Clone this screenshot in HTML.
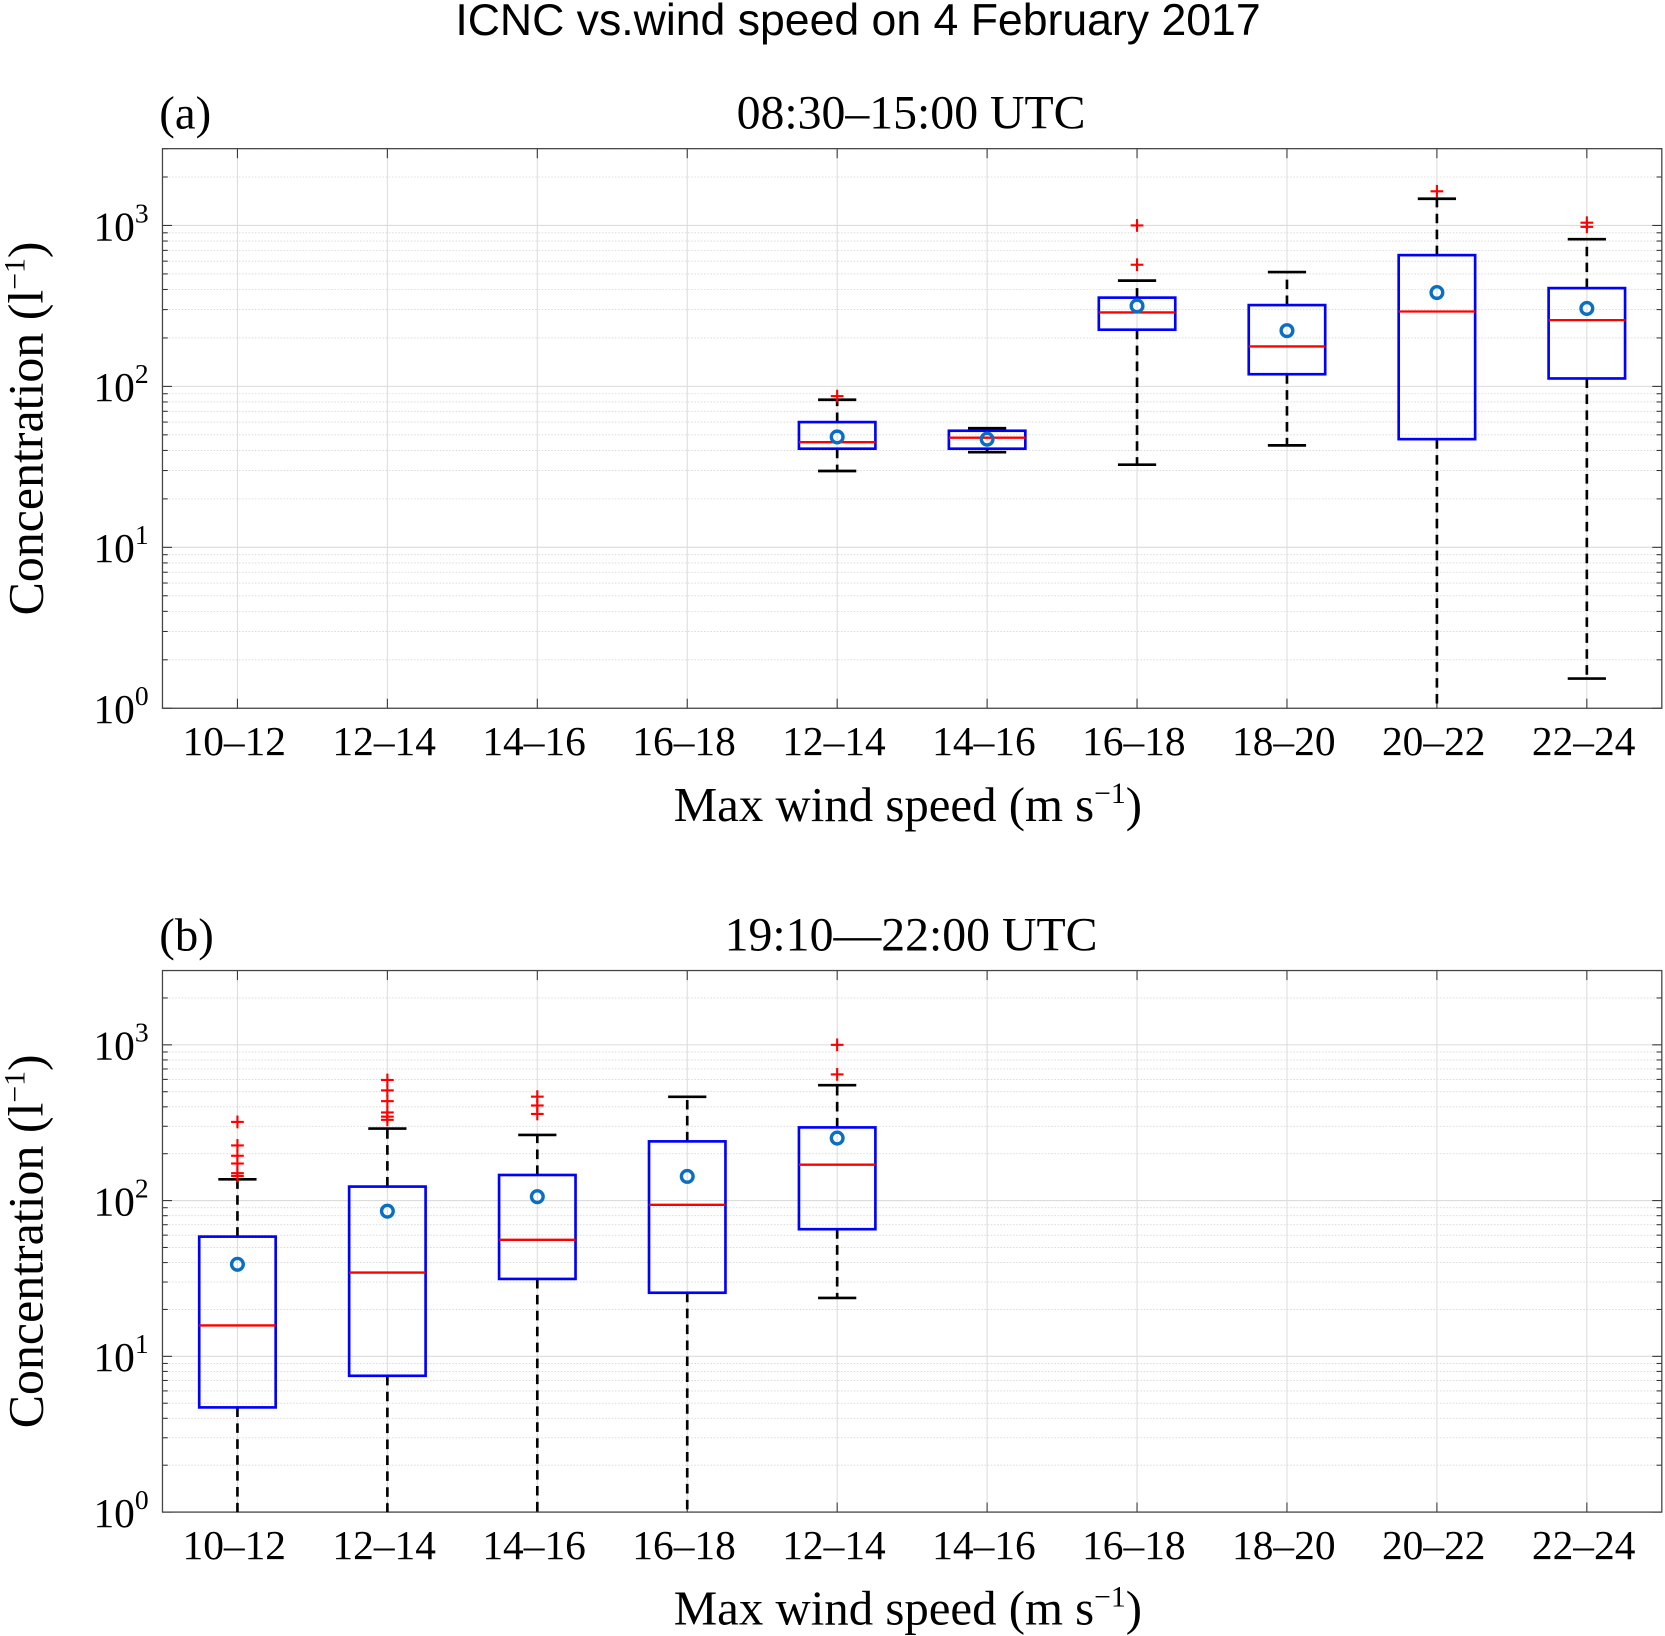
<!DOCTYPE html>
<html><head><meta charset="utf-8"><style>
html,body{margin:0;padding:0;background:#fff}
svg{display:block}
text{font-family:"Liberation Serif",serif;fill:#000}
</style></head><body>
<svg id="chart" width="1665" height="1636" viewBox="0 0 1568 1540.7" xmlns="http://www.w3.org/2000/svg">
<text x="808" y="33" text-anchor="middle" style="font-family:'Liberation Sans',sans-serif;font-size:42px">ICNC vs.wind speed on 4 February 2017</text>
</svg>
<script>
const categories=["10–12","12–14","14–16","16–18","12–14","14–16","16–18","18–20","20–22","22–24"];
// panel a: [catIndex, whiskerLow, q1, median, q3, whiskerHigh, mean]
const boxesA=[[4,29.8,41,45,60,82.6,48.5],[5,39,41,48,53,55,47],[6,32.6,225,288,356,454,316],[7,43,119,177,320,513,222],[8,1,47,292,654,1465,383],[9,1.53,112,258,408,822,305]];
const outliersA=[[4,87],[6,1000],[6,570],[8,1630],[9,1040],[9,980]];
const boxesB=[[0,1,4.7,15.8,58.7,137,39],[1,1,7.5,34.5,123,290,85.5],[2,1,31.4,56,146,264,106],[3,1,25.6,94,240,464,143],[4,23.7,65.5,170,295,551,252]];
const outliersB=[[0,320],[0,226],[0,194],[0,173],[0,150],[0,144],[1,595],[1,510],[1,435],[1,368],[1,346],[1,330],[2,465],[2,408],[2,360],[4,1000],[4,646]];
const yTickExp=[0,1,2,3];
const svg=document.getElementById('chart');
const NS='http://www.w3.org/2000/svg';
function mk(tag,attrs,parent){const e=document.createElementNS(NS,tag);for(const k in attrs)e.setAttribute(k,attrs[k]);(parent||svg).appendChild(e);return e;}
function panel(p){
  const L=153,R=1565,T=p.top,B=p.bottom;
  const ymax=Math.log10(3000);
  const y=v=>B-(Math.log10(v))/ymax*(B-T);
  const step=(R-L)/categories.length;
  const x=i=>L+step*(i+0.5);
  const g=mk('g',{});
  
  
  for(let d=0;d<4;d++){for(let m=1;m<10;m++){const v=m*Math.pow(10,d);if(v>3000)break;const yy=y(v);
    const ln=mk('line',{x1:L,x2:R,y1:yy,y2:yy,stroke:m==1?'#dcdcdc':'#d8d8d8','stroke-width':m==1?1:0.8,'stroke-dasharray':m==1?'':'1.5,1.5'},g);
    
    const tl=m==1?9:5;
    mk('line',{x1:L,x2:L+tl,y1:yy,y2:yy,stroke:'#333','stroke-width':1},g);
    mk('line',{x1:R,x2:R-tl,y1:yy,y2:yy,stroke:'#333','stroke-width':1},g);
  }}
  categories.forEach((c,i)=>{const xx=x(i);
    const ln=mk('line',{x1:xx,x2:xx,y1:T,y2:B,stroke:'#dcdcdc','stroke-width':1},g);
    
    mk('line',{x1:xx,x2:xx,y1:B,y2:B-9,stroke:'#333'},g);
    mk('line',{x1:xx,x2:xx,y1:T,y2:T+9,stroke:'#333'},g);
    const t=mk('text',{x:xx-3,y:B+44,'text-anchor':'middle','font-size':'39px'},g);t.textContent=c;
    
  });
  yTickExp.forEach(e=>{const t=mk('text',{x:140,y:y(Math.pow(10,e))+14,'text-anchor':'end','font-size':'39px'},g);
    t.innerHTML='10<tspan dy="-17" font-size="26px">'+e+'</tspan>';
    });
  const fr=mk('rect',{x:L,y:T,width:R-L,height:B-T,fill:'none',stroke:'#444','stroke-width':1.2},g);
  
  const hw=36,cap=18;
  p.boxes.forEach(b=>{const xx=x(b[0]);const bg=mk('g',{},g);
    
    mk('line',{x1:xx,x2:xx,y1:y(b[4]),y2:y(b[5]),stroke:'#000','stroke-width':2.5,'stroke-dasharray':'9,6'},bg);
    mk('line',{x1:xx,x2:xx,y1:y(b[2]),y2:y(b[1]),stroke:'#000','stroke-width':2.5,'stroke-dasharray':'9,6'},bg);
    if(b[1]>1)mk('line',{x1:xx-cap,x2:xx+cap,y1:y(b[1]),y2:y(b[1]),stroke:'#000','stroke-width':2.5},bg);
    mk('line',{x1:xx-cap,x2:xx+cap,y1:y(b[5]),y2:y(b[5]),stroke:'#000','stroke-width':2.5},bg);
    mk('rect',{x:xx-hw,y:y(b[4]),width:2*hw,height:y(b[2])-y(b[4]),fill:'none',stroke:'#0000ff','stroke-width':2.5},bg);
    mk('line',{x1:xx-hw,x2:xx+hw,y1:y(b[3]),y2:y(b[3]),stroke:'#ff0000','stroke-width':2.2},bg);
    const mc=mk('circle',{cx:xx,cy:y(b[6]),r:5.5,fill:'none',stroke:'#0a6fc2','stroke-width':3.2},bg);
    
  });
  p.outliers.forEach(o=>{const xx=x(o[0]),yy=y(o[1]);const og=mk('g',{},g);
    
    mk('line',{x1:xx-6,x2:xx+6,y1:yy,y2:yy,stroke:'#ff0000','stroke-width':2},og);
    mk('line',{x1:xx,x2:xx,y1:yy-6,y2:yy+6,stroke:'#ff0000','stroke-width':2},og);});
  const pl=mk('text',{x:150,y:T-19,'font-size':'44px'},g);pl.textContent=p.label;
  
  const tt=mk('text',{x:858,y:T-19,'text-anchor':'middle','font-size':'45px'},g);tt.textContent=p.title;
  
  const xl=mk('text',{x:855,y:B+106,'text-anchor':'middle','font-size':'46px'},g);
  xl.innerHTML='Max wind speed (m s<tspan dy="-17" font-size="28px">−1</tspan><tspan dy="17">)</tspan>';
  
  const yl=mk('text',{x:0,y:0,'text-anchor':'middle','font-size':'47px',transform:'translate(40,'+((T+B)/2)+') rotate(-90)'},g);
  yl.innerHTML='Concentration (l<tspan dy="-17" font-size="28px">−1</tspan><tspan dy="17">)</tspan>';
  
}
panel({id:'a',top:140,bottom:667,boxes:boxesA,outliers:outliersA,label:'(a)',title:'08:30–15:00 UTC'});
panel({id:'b',top:914,bottom:1424,boxes:boxesB,outliers:outliersB,label:'(b)',title:'19:10—22:00 UTC'});
</script>
</body></html>
